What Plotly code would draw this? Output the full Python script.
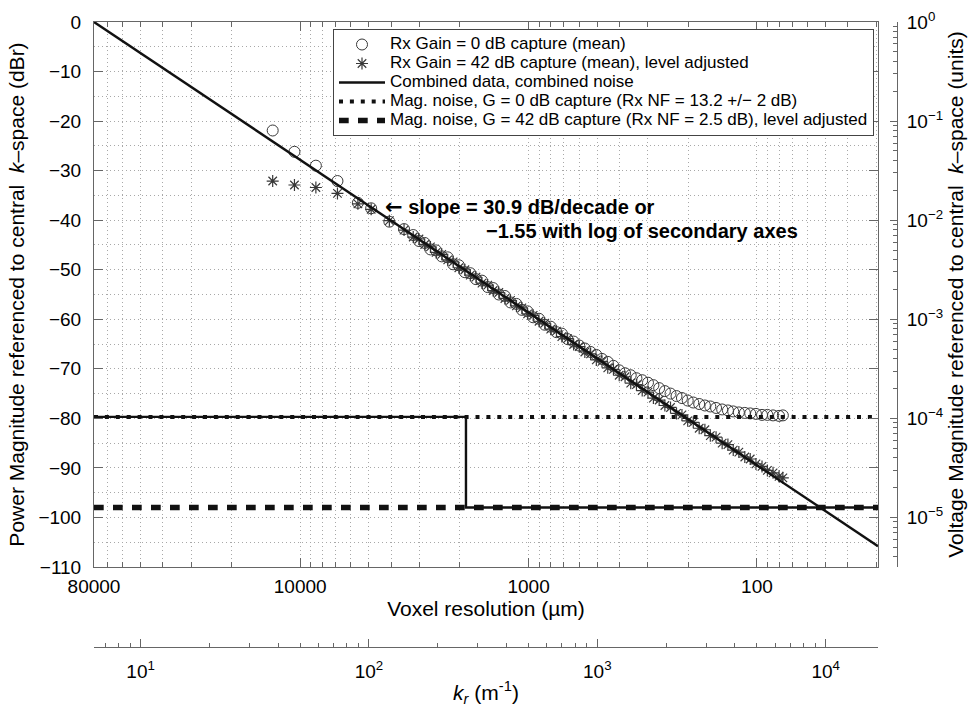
import math
import plotly.graph_objects as go

# ---------------- data ----------------
res_um = [13200, 10600, 8540, 6870, 5590, 4890, 4070, 3510,
          3200, 3020, 2850, 2690, 2540, 2400, 2260, 2140, 2020, 1900,
          1800, 1700, 1600, 1510, 1430, 1350, 1270, 1200, 1130, 1070,
          1010, 955, 900, 850, 800, 755, 715, 675, 635, 600,
          567, 535, 505, 477, 450, 425, 401, 378, 357, 337,
          318, 300, 284, 268, 253, 239, 225, 213, 201, 190,
          179, 169, 160, 151, 142, 134, 127, 120, 113, 107,
          101, 95, 90, 85, 80, 77]

gain0_db = [-21.9, -26.2, -29.0, -32.1, -36.5, -37.6, -40.3, -41.8,
            -43.0, -44.2, -44.6, -45.9, -46.1, -47.3, -47.5, -48.9, -49.1, -50.5,
            -50.7, -51.9, -52.2, -53.5, -53.7, -55.0, -55.3, -56.6, -56.9, -58.1,
            -58.4, -59.6, -59.9, -61.1, -61.5, -62.6, -62.9, -64.0, -64.5, -65.3,
            -65.9, -66.6, -67.2, -68.0, -68.6, -69.4, -70.3, -70.9, -71.3, -71.9,
            -72.3, -72.8, -73.3, -73.9, -74.5, -75.0, -75.5, -75.9, -76.4, -76.8,
            -77.1, -77.4, -77.6, -77.9, -78.2, -78.4, -78.6, -78.8, -78.9, -79.0,
            -79.1, -79.3, -79.3, -79.4, -79.5, -79.4]

gain42_db = [-32.1, -32.9, -33.4, -34.6, -36.7, -37.8, -40.1, -42.0,
             -43.4, -43.8, -44.9, -45.4, -46.5, -46.9, -48.0, -48.4, -49.6, -50.0,
             -51.1, -51.5, -52.7, -53.1, -54.2, -54.6, -55.8, -56.2, -57.3, -57.7,
             -58.9, -59.2, -60.4, -60.8, -62.0, -62.4, -63.5, -63.9, -65.1, -65.5,
             -66.6, -67.0, -68.2, -68.5, -69.8, -70.1, -71.3, -71.6, -72.9, -73.2,
             -74.4, -74.7, -75.9, -76.3, -77.4, -77.8, -79.0, -79.3, -80.5, -80.8,
             -82.0, -82.3, -83.5, -83.8, -85.0, -85.3, -86.4, -86.8, -87.8, -88.2,
             -89.2, -89.7, -90.5, -91.0, -91.7, -92.0]

fit_res_um = [80000, 29.5]
fit_db = [0.0, -105.8]

noise_g0_db = -79.7
noise_g42_db = -98.0
noise_switch_um = 1880

x_left_um = 80000
x_right_um = 29.5
y_min_db, y_max_db = -110, 0

voxel_tick_vals = [80000, 10000, 1000, 100]
voxel_tick_text = ["80000", "10000", "1000", "100"]
voxel_minor = [70000, 60000, 50000, 40000, 30000, 20000,
               9000, 8000, 7000, 6000, 5000, 4000, 3000, 2000,
               900, 800, 700, 600, 500, 400, 300, 200,
               90, 80, 70, 60, 50, 40, 30]

kr_tick_vals = [10, 100, 1000, 10000]
kr_tick_text = ["10<sup>1</sup>", "10<sup>2</sup>", "10<sup>3</sup>", "10<sup>4</sup>"]
kr_minor = [7, 8, 9, 20, 30, 40, 50, 60, 70, 80, 90,
            200, 300, 400, 500, 600, 700, 800, 900,
            2000, 3000, 4000, 5000, 6000, 7000, 8000, 9000]

volt_tick_vals = [1, 1e-1, 1e-2, 1e-3, 1e-4, 1e-5]
volt_tick_text = ["10<sup>0</sup>", "10<sup>−1</sup>", "10<sup>−2</sup>",
                  "10<sup>−3</sup>", "10<sup>−4</sup>", "10<sup>−5</sup>"]
volt_minor = [m * 10.0 ** e for e in range(-6, 0) for m in range(2, 10)]

legend_names = [
    "Rx Gain = 0 dB capture (mean)",
    "Rx Gain = 42 dB capture (mean), level adjusted",
    "Combined data, combined noise",
    "Mag. noise, G = 0 dB capture (Rx NF = 13.2 +/− 2 dB)",
    "Mag. noise, G = 42 dB capture (Rx NF = 2.5 dB), level adjusted",
]

# ---------------- figure ----------------
FONT = "Liberation Sans, Arial, Helvetica, sans-serif"
INK = "#111111"
AXC = "#666666"
GRIDC = "#a8a8a8"
GRIDDASH = "1px,3px"
MK = "#383838"


def leg(t):
    return '<span style="font-size:17px">' + t + "</span>"


fig = go.Figure()

fig.add_trace(go.Scatter(
    x=res_um, y=gain0_db, mode="markers", name=leg(legend_names[0]),
    marker=dict(symbol="circle-open", size=11, color=MK, line=dict(width=1, color=MK)),
))
fig.add_trace(go.Scatter(
    x=res_um, y=gain42_db, mode="markers", name=leg(legend_names[1]),
    marker=dict(symbol="asterisk-open", size=10, color=MK, line=dict(width=1.2, color=MK)),
))

comb_x = fit_res_um + [None, x_left_um, noise_switch_um, noise_switch_um, x_right_um]
comb_y = fit_db + [None, noise_g0_db, noise_g0_db, noise_g42_db, noise_g42_db]
fig.add_trace(go.Scatter(
    x=comb_x, y=comb_y, mode="lines", name=leg(legend_names[2]),
    line=dict(color=INK, width=2.4),
))
fig.add_trace(go.Scatter(
    x=[x_left_um, x_right_um], y=[noise_g0_db, noise_g0_db], mode="lines",
    name=leg(legend_names[3]),
    line=dict(color=INK, width=4, dash="4px,6.9px"),
))
fig.add_trace(go.Scatter(
    x=[x_left_um, x_right_um], y=[noise_g42_db, noise_g42_db], mode="lines",
    name=leg(legend_names[4]),
    line=dict(color=INK, width=5.5, dash="9.7px,9.3px"),
))

# the same fit expressed on the secondary axes (kr in 1/m, voltage ratio) -> activates them
kr_fit = [1e6 / (2.0 * r) for r in fit_res_um]
volt_fit = [10 ** (d / 20.0) for d in fit_db]
fig.add_trace(go.Scatter(
    x=kr_fit, y=volt_fit, xaxis="x3", yaxis="y2", mode="lines",
    line=dict(color="rgba(0,0,0,0)", width=1), showlegend=False, hoverinfo="skip",
))

lg = math.log10
W, H = 971, 709
ML, MR, MT, MB = 94, 74, 22, 62
plot_right_px = 878
plot_bottom_px = 567
paper_w = W - ML - MR
paper_h = H - MT - MB
x_dom = [0, (plot_right_px - ML) / paper_w]
y_dom = [(H - MB - plot_bottom_px) / paper_h, 1]

tickfont = dict(family=FONT, size=19, color="black")
titlefont = dict(family=FONT, size=21, color="black")

fig.update_layout(
    width=W, height=H,
    margin=dict(l=ML, r=MR, t=MT, b=MB, autoexpand=False),
    paper_bgcolor="white", plot_bgcolor="white",
    font=dict(family=FONT, size=19, color="black"),
    showlegend=True,
    legend=dict(
        x=(333 - ML) / paper_w, y=1 - (29 - MT) / paper_h, xanchor="left", yanchor="top",
        bgcolor="white", bordercolor="#444", borderwidth=1,
        font=dict(family=FONT, size=12.3, color="black"),
        itemwidth=46, tracegroupgap=0,
    ),
    xaxis=dict(
        type="log", range=[lg(x_left_um), lg(x_right_um)], domain=x_dom, anchor="y",
        tickmode="array", tickvals=voxel_tick_vals, ticktext=voxel_tick_text,
        ticks="inside", ticklen=9, tickwidth=1, tickcolor=AXC,
        showline=True, linecolor=AXC, linewidth=1, mirror="ticks",
        showgrid=True, gridcolor=GRIDC, gridwidth=1, griddash=GRIDDASH,
        minor=dict(tickmode="array", tickvals=voxel_minor, ticks="inside", ticklen=5,
                   tickcolor=AXC, showgrid=True, gridcolor=GRIDC, griddash=GRIDDASH),
        tickfont=tickfont, ticklabelstandoff=2,
        title=dict(text="Voxel resolution (µm)", font=titlefont, standoff=4),
        zeroline=False,
    ),
    yaxis=dict(
        range=[y_min_db, y_max_db], domain=y_dom, anchor="x",
        tick0=0, dtick=10,
        ticks="inside", ticklen=9, tickwidth=1, tickcolor=AXC,
        showline=True, linecolor=AXC, linewidth=1, mirror="ticks",
        showgrid=True, gridcolor=GRIDC, gridwidth=1, griddash=GRIDDASH,
        minor=dict(dtick=5, tick0=0, ticks="", showgrid=True, gridcolor=GRIDC, griddash=GRIDDASH),
        tickfont=tickfont, ticklabelstandoff=8,
        title=dict(text="Power Magnitude referenced to central \u00a0<i>k</i>–space (dBr)",
                   font=titlefont, standoff=8),
        zeroline=False,
    ),
    yaxis2=dict(
        type="log", range=[lg(10 ** (y_min_db / 20.0)), lg(10 ** (y_max_db / 20.0))],
        overlaying="y", side="right", anchor="free", position=1.0,
        tickmode="array", tickvals=volt_tick_vals, ticktext=volt_tick_text,
        ticks="inside", ticklen=7, tickwidth=1, tickcolor=AXC,
        minor=dict(tickmode="array", tickvals=volt_minor, ticks="inside", ticklen=4, tickcolor=AXC, showgrid=False),
        showline=True, linecolor=AXC, linewidth=1, showgrid=False, zeroline=False,
        tickfont=tickfont, ticklabelstandoff=5,
        title=dict(text="Voltage Magnitude referenced to central \u00a0<i>k</i>–space (units)",
                   font=titlefont, standoff=6),
    ),
    xaxis3=dict(
        type="log",
        range=[lg(1e6 / (2.0 * x_left_um)), lg(1e6 / (2.0 * x_right_um))],
        overlaying="x", side="bottom", anchor="free", position=0.0,
        tickmode="array", tickvals=kr_tick_vals, ticktext=kr_tick_text,
        ticks="inside", ticklen=8, tickwidth=1, tickcolor=AXC,
        minor=dict(tickmode="array", tickvals=kr_minor, ticks="inside", ticklen=4, tickcolor=AXC, showgrid=False),
        showline=True, linecolor=AXC, linewidth=1, showgrid=False, zeroline=False,
        tickfont=tickfont, ticklabelstandoff=7,
        title=dict(text="<i>k<sub>r</sub></i> (m<sup>-1</sup>)", font=titlefont, standoff=4),
    ),
)

fig.add_annotation(
    x=lg(4330), y=-37.3, xref="x", yref="y", xanchor="left", yanchor="middle",
    text='<b><span style="font-family:DejaVu Sans;font-size:21px">←</span> slope = 30.9 dB/decade or</b>',
    showarrow=False, font=dict(family=FONT, size=20, color="black"),
)
fig.add_annotation(
    x=lg(1570), y=-42.2, xref="x", yref="y", xanchor="left", yanchor="middle",
    text="<b>−1.55 with log of secondary axes</b>", showarrow=False,
    font=dict(family=FONT, size=20, color="black"),
)

fig.write_html(
    "out.html",
    config={"displayModeBar": False},
    post_script="document.body.style.margin='0px';document.body.style.overflow='hidden';",
)
